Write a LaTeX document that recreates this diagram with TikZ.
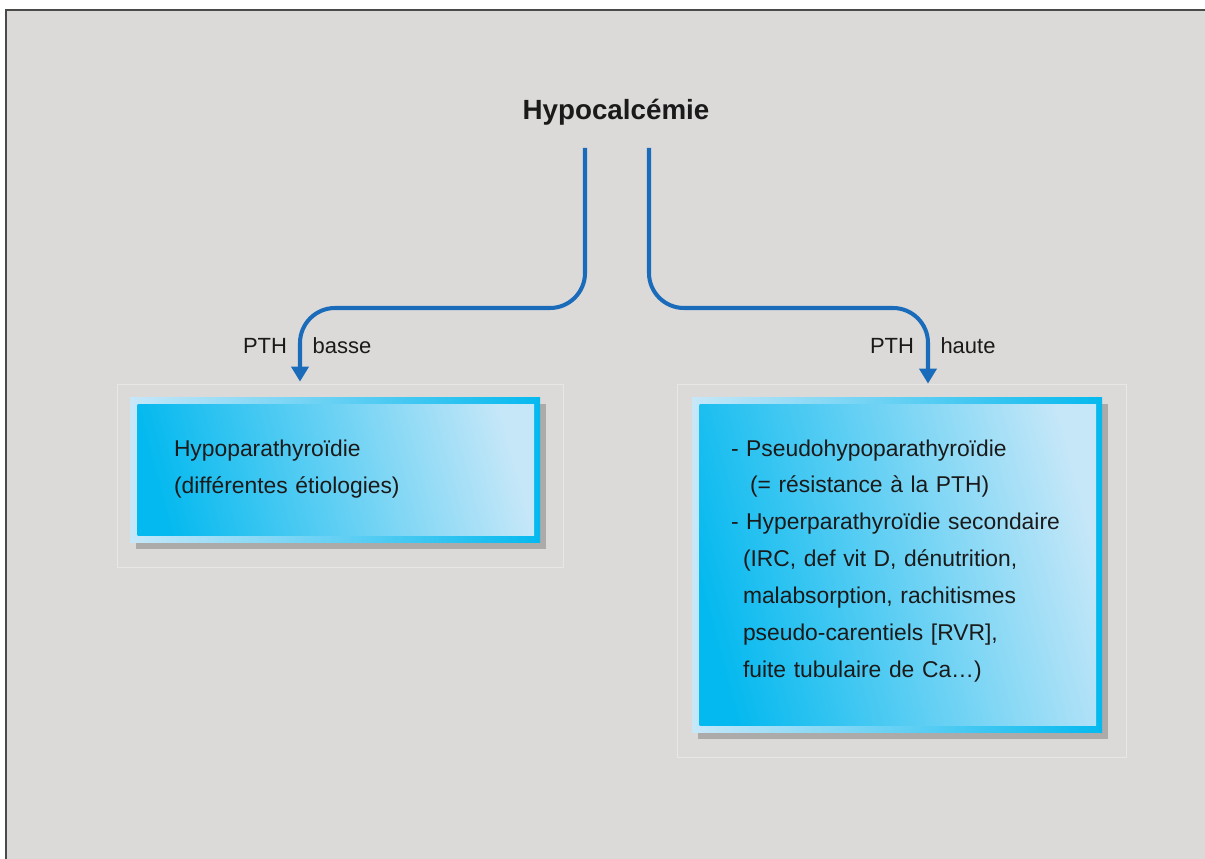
\documentclass[tikz,border=0pt]{standalone}
\usepackage{fontspec}
\setmainfont{Liberation Sans}
\usepackage{tikz}
\usetikzlibrary{arrows.meta,positioning,shadows,calc}
\usepackage{xcolor}
\definecolor{panelgray}{HTML}{DCDAD8}
\definecolor{framegray}{HTML}{4A4A4A}
\definecolor{faintgray}{HTML}{E9E7E5}
\definecolor{flowblue}{HTML}{1A6CBA}
\definecolor{cyandark}{HTML}{04B9EF}
\definecolor{cyanlight}{HTML}{C6E7F8}
\definecolor{textdark}{HTML}{1A1A1A}

\tikzset{
  flow/.style={line width=2.3pt, flowblue, rounded corners=0.7cm, -{Triangle[width=0.34cm,length=0.3cm]}},
  tag/.style={font=\fontsize{12.5}{15}\selectfont, text=textdark},
  ptbox/.style={minimum width=8.2cm, text width=8.2cm, inner xsep=0cm, inner ysep=0cm,
    shading=axis, left color=cyanlight, right color=cyandark,
    drop shadow={shadow xshift=0.12cm, shadow yshift=-0.13cm, opacity=0.4, fill=black!60},
    path picture={\shade[left color=cyandark, right color=cyanlight, shading angle=105]
      ([shift={(0.15,-0.14)}]path picture bounding box.north west) rectangle
      ([shift={(-0.12,0.14)}]path picture bounding box.south east);},
    font=\fontsize{13}{21}\selectfont, text=textdark, align=left},
  faint/.style={draw=faintgray, line width=0.6pt}
}

\begin{document}
\begin{tikzpicture}
\useasboundingbox (0,0) rectangle (24.1,-17.18);
% background panel
\fill[panelgray] (0.12,-0.2) rectangle (24.1,-17.18);
\draw[framegray, line width=0.7pt] (0.12,-17.18) -- (0.12,-0.2) -- (24.1,-0.2);

\node[font=\fontsize{15.8}{18}\selectfont\bfseries, text=textdark] (hypo) at (12.32,-2.24) {Hypocalcémie};

% result boxes
\node[ptbox, minimum height=2.9cm] (hpara) at (6.7,-9.39)
  {\hspace*{0.88cm}Hypoparathyroïdie\\\hspace*{0.88cm}(différentes étiologies)};
\node[ptbox, minimum height=6.7cm] (pseudo) at (17.94,-11.29)
  {\hspace*{0.78cm}- Pseudohypoparathyroïdie\\
   \hspace*{1.16cm}(= résistance à la PTH)\\
   \hspace*{0.78cm}- Hyperparathyroïdie secondaire\\
   \hspace*{1.02cm}(IRC, def vit D, dénutrition,\\
   \hspace*{1.02cm}malabsorption, rachitismes\\
   \hspace*{1.02cm}pseudo-carentiels [RVR],\\
   \hspace*{1.02cm}fuite tubulaire de Ca…)\rule[-0.24cm]{0pt}{0pt}};

\draw[faint] ([shift={(-0.25,0.24)}]hpara.north west) rectangle ([shift={(0.47,-0.5)}]hpara.south east);
\draw[faint] ([shift={(-0.28,0.24)}]pseudo.north west) rectangle ([shift={(0.48,-0.5)}]pseudo.south east);

% branches
\coordinate (lstart) at (11.7,-2.96);
\coordinate (rstart) at (12.98,-2.96);
\draw[flow] (lstart) -- ++(0,-3.2) -| ([xshift=-0.7cm,yshift=0.3cm]hpara.north);
\draw[flow] (rstart) -- ++(0,-3.2) -| ([xshift=0.62cm,yshift=0.26cm]pseudo.north);

\node[tag] (lowa) at (5.3,-6.92) {PTH};
\node[tag] (lowb) at (6.84,-6.92) {basse};
\node[tag] (higha) at (17.84,-6.92) {PTH};
\node[tag] (highb) at (19.36,-6.92) {haute};
\end{tikzpicture}
\end{document}
